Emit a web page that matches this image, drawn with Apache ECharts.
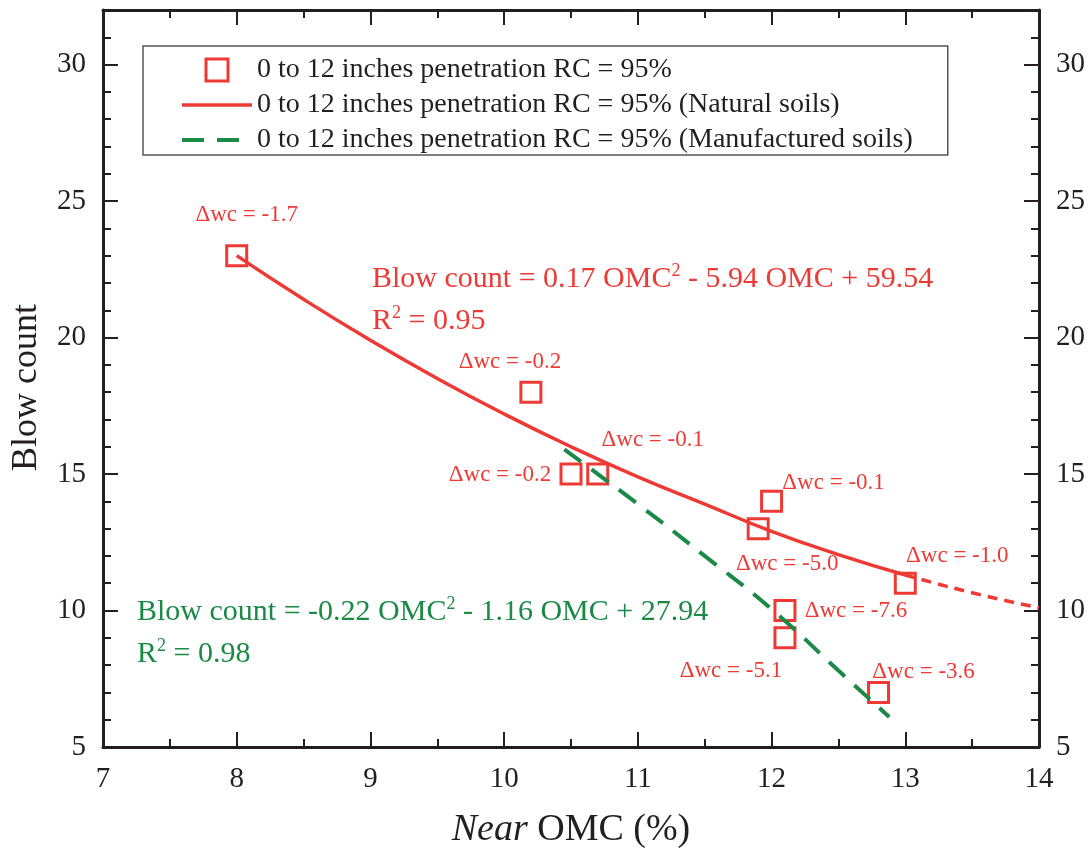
<!DOCTYPE html>
<html>
<head>
<meta charset="utf-8">
<script src="https://cdn.jsdelivr.net/npm/echarts@6/dist/echarts.min.js"></script>
<style>html,body{margin:0;padding:0;background:#fff}#c{width:1089px;height:856px}</style>
</head>
<body>
<div id="c"></div>
<script>
// ---- data ----
const omc = [8, 10.2, 10.5, 10.7, 11.9, 12, 12.1, 12.1, 12.8, 13];
const blows = [23, 18, 15, 15, 13, 14, 10, 9, 7, 11];
const dwc = ['-1.7', '-0.2', '-0.2', '-0.1', '-5.0', '-0.1', '-7.6', '-5.1', '-3.6', '-1.0'];
const naturalX = [8, 8.5, 9, 9.5, 10, 10.5, 11, 11.5, 12, 12.5, 13];
const naturalY = [23.0, 21.4, 19.9, 18.5, 17.2, 16.0, 14.9, 13.9, 12.9, 12.05, 11.3];
const naturalExtX = [13, 13.5, 14];
const naturalExtY = [11.3, 10.65, 10.1];
const manufX = [10.45, 11, 11.5, 12, 12.5, 12.88];
const manufY = [15.9, 13.9, 12.0, 10.05, 7.8, 6.1];
const legendNames = [
  '0 to 12 inches penetration RC = 95%',
  '0 to 12 inches penetration RC = 95% (Natural soils)',
  '0 to 12 inches penetration RC = 95% (Manufactured soils)'
];
// label placement (pixel offsets from each marker)
const labelOffsets = [[10,-41],[-21,-30],[-71,1],[55,-34],[29,35],[62,-18],[71,0],[-54,33],[45,-20],[52,-27]];

const RED = '#ee3a35', GREEN = '#1b8a47', INK = '#231f20';
const FONT = "'Liberation Serif', 'Times New Roman', serif";

const zip = (xs, ys) => xs.map((x, i) => [x, ys[i]]);

const chart = echarts.init(document.getElementById('c'));

function xAxisCfg(pos, showLabel) {
  return {
    type: 'value', position: pos, min: 7, max: 14, interval: 1,
    axisLine: {show: true, onZero: false, lineStyle: {color: INK, width: 3}},
    axisTick: {show: true, inside: true, length: 15, lineStyle: {color: INK, width: 2}},
    minorTick: {show: true, splitNumber: 2, length: 8, lineStyle: {color: INK, width: 2}},
    splitLine: {show: false},
    axisLabel: {show: showLabel, margin: 18, fontSize: 29, color: INK, fontFamily: FONT},
    name: showLabel ? '{i|Near} OMC (%)' : '',
    nameLocation: 'middle', nameGap: 64,
    nameTextStyle: {fontSize: 38, color: INK, fontFamily: FONT,
      rich: {i: {fontStyle: 'italic', fontSize: 38, fontFamily: FONT, color: INK}}}
  };
}
function yAxisMajor(pos, showName) {
  return {
    type: 'value', position: pos, min: 5, max: 32, interval: 5,
    axisLine: {show: true, onZero: false, lineStyle: {color: INK, width: 3}},
    axisTick: {show: true, inside: true, length: 15, lineStyle: {color: INK, width: 2}},
    splitLine: {show: false},
    axisLabel: {margin: 17, fontSize: 29, color: INK, fontFamily: FONT,
      formatter: v => (v % 5 === 0 ? String(v) : '')},
    name: showName ? 'Blow count' : '',
    nameLocation: 'middle', nameGap: 58, nameRotate: 90,
    nameTextStyle: {fontSize: 36, color: INK, fontFamily: FONT, padding: [0, 18, 0, 0]}
  };
}
function yAxisMinor(pos) {
  return {
    type: 'value', position: pos, min: 5, max: 32, interval: 1,
    axisLine: {show: false},
    axisTick: {show: true, inside: true, length: 8, lineStyle: {color: INK, width: 2}},
    splitLine: {show: false},
    axisLabel: {show: false}
  };
}

const option = {
  backgroundColor: '#fff',
  animation: false,
  grid: {left: 103, top: 10, right: 50, bottom: 109, containLabel: false},
  xAxis: [xAxisCfg('bottom', true), xAxisCfg('top', false)],
  yAxis: [yAxisMajor('left', true), yAxisMajor('right', false), yAxisMinor('left'), yAxisMinor('right')],
  legend: {
    orient: 'vertical', left: 143, top: 46,
    padding: [10, 35, 1, 37],
    borderColor: '#555', borderWidth: 1.5,
    itemWidth: 70, itemHeight: 22, itemGap: 7,
    symbolKeepAspect: true,
    textStyle: {fontSize: 28, lineHeight: 28, color: INK, fontFamily: FONT},
    data: [
      {name: legendNames[0], icon: 'path://M0,0H20V20H0Z',
        itemStyle: {color: 'rgba(0,0,0,0)', borderColor: RED, borderWidth: 3}},
      {name: legendNames[1],
        itemStyle: {color: 'rgba(0,0,0,0)', borderColor: 'rgba(0,0,0,0)', borderWidth: 0},
        lineStyle: {color: RED, width: 3.5, type: 'solid'}},
      {name: legendNames[2],
        itemStyle: {color: 'rgba(0,0,0,0)', borderColor: 'rgba(0,0,0,0)', borderWidth: 0},
        lineStyle: {color: GREEN, width: 4, type: [22, 13]}}
    ]
  },
  graphic: [
    {type: 'text', left: 372, top: 262, z: 100, style: {
      text: 'Blow count = 0.17 OMC{s|2} - 5.94 OMC + 59.54', fill: RED, fontSize: 30, fontFamily: FONT, lineHeight: 34,
      rich: {s: {fontSize: 18, lineHeight: 18, verticalAlign: 'top', fill: RED, fontFamily: FONT}}}},
    {type: 'text', left: 372, top: 304, z: 100, style: {
      text: 'R{s|2} = 0.95', fill: RED, fontSize: 30, fontFamily: FONT, lineHeight: 34,
      rich: {s: {fontSize: 18, lineHeight: 18, verticalAlign: 'top', fill: RED, fontFamily: FONT}}}},
    {type: 'text', left: 137, top: 595, z: 100, style: {
      text: 'Blow count = -0.22 OMC{s|2} - 1.16 OMC + 27.94', fill: GREEN, fontSize: 30, fontFamily: FONT, lineHeight: 34,
      rich: {s: {fontSize: 18, lineHeight: 18, verticalAlign: 'top', fill: GREEN, fontFamily: FONT}}}},
    {type: 'text', left: 137, top: 637, z: 100, style: {
      text: 'R{s|2} = 0.98', fill: GREEN, fontSize: 30, fontFamily: FONT, lineHeight: 34,
      rich: {s: {fontSize: 18, lineHeight: 18, verticalAlign: 'top', fill: GREEN, fontFamily: FONT}}}}
  ],
  series: [
    {
      name: legendNames[0], type: 'scatter', xAxisIndex: 0, yAxisIndex: 0,
      symbol: 'rect', symbolSize: 20, z: 3,
      itemStyle: {color: 'rgba(0,0,0,0)', borderColor: RED, borderWidth: 3, opacity: 1},
      data: omc.map((x, i) => ({
        value: [x, blows[i]],
        label: {show: true, position: 'inside', offset: labelOffsets[i],
          formatter: 'Δwc = ' + dwc[i], color: RED, fontSize: 23, fontFamily: FONT}
      }))
    },
    {
      name: legendNames[1], type: 'line', xAxisIndex: 0, yAxisIndex: 0,
      smooth: true, symbol: 'none', showSymbol: false, z: 4,
      lineStyle: {color: RED, width: 3.5}, itemStyle: {color: RED},
      data: zip(naturalX, naturalY)
    },
    {
      name: 'natural-extrapolated', type: 'line', xAxisIndex: 0, yAxisIndex: 0,
      smooth: true, symbol: 'none', showSymbol: false, z: 4,
      lineStyle: {color: RED, width: 3.5, type: [10, 7]}, itemStyle: {color: RED},
      data: zip(naturalExtX, naturalExtY)
    },
    {
      name: legendNames[2], type: 'line', xAxisIndex: 0, yAxisIndex: 0,
      smooth: true, symbol: 'none', showSymbol: false, z: 5,
      lineStyle: {color: GREEN, width: 4, type: [21, 13]}, itemStyle: {color: GREEN},
      data: zip(manufX, manufY)
    }
  ]
};
chart.setOption(option);
</script>
</body>
</html>
